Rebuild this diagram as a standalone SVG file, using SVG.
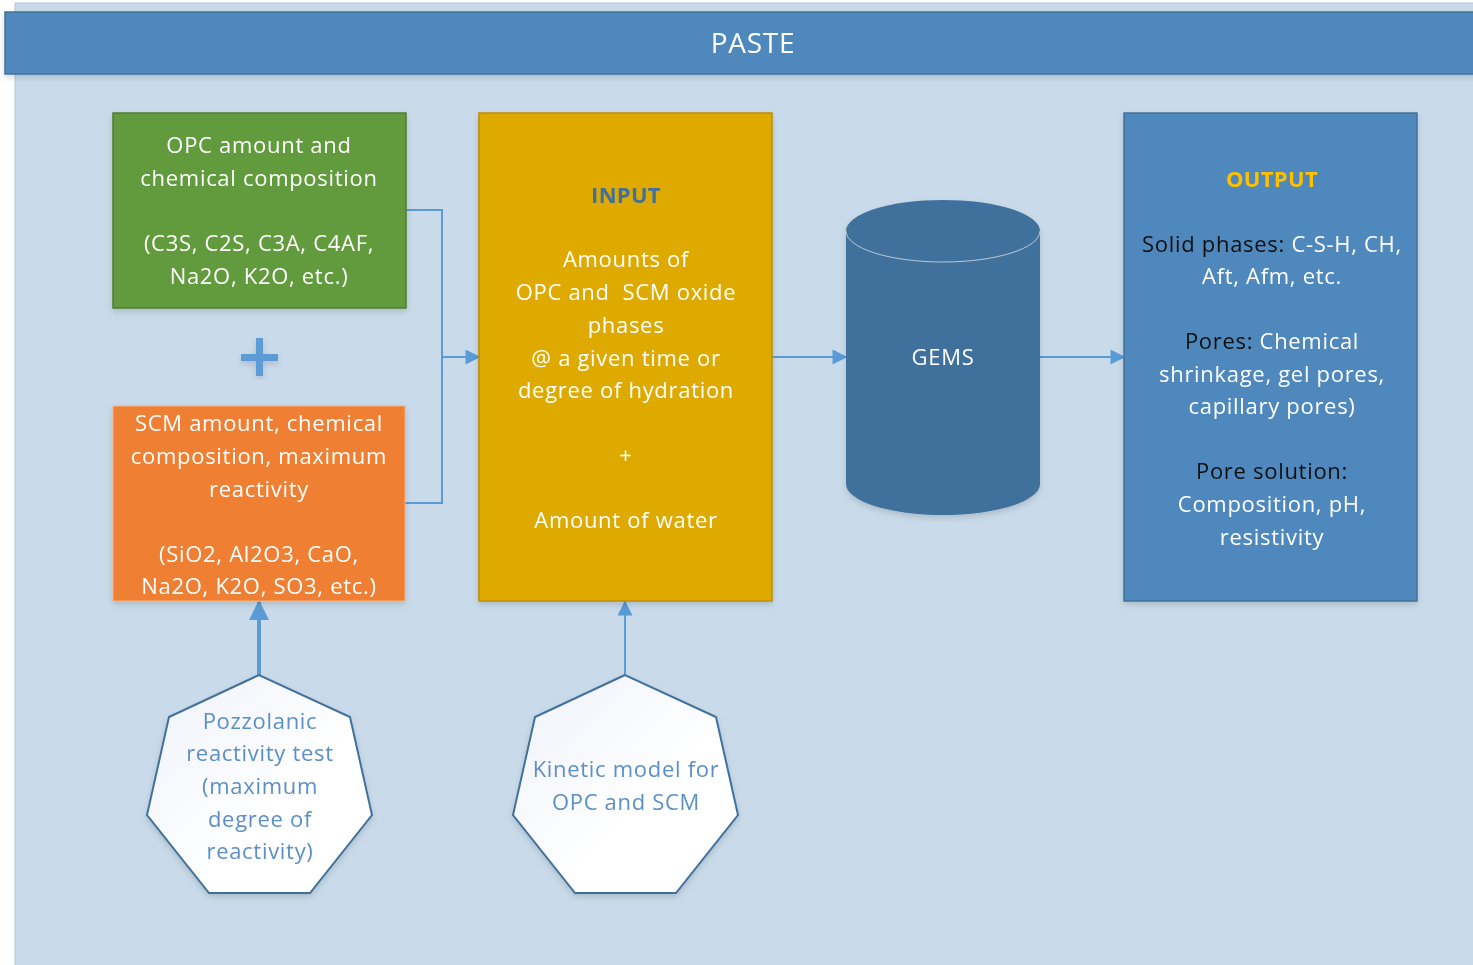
<svg xmlns="http://www.w3.org/2000/svg" width="1473" height="965" viewBox="0 0 1473 965">
<style>
  text { font-family: "Open Sans", "Liberation Sans", sans-serif; font-size: 22px; letter-spacing: 0.7px; text-anchor: middle; fill: #ffffff; white-space: pre; }
  .hept text { fill: #5B8FC6; }
  .conn { stroke: #5B9BD5; stroke-width: 2; fill: none; }
  .thick { stroke-width: 4; }
  .blk { fill: #111111; }
  .title { font-size: 28px; }
  .bold { font-weight: bold; letter-spacing: 0.3px; }
</style>
<defs>
  <marker id="arr" viewBox="0 0 10 10" refX="9" refY="5" markerWidth="16" markerHeight="15" markerUnits="userSpaceOnUse" orient="auto">
    <path d="M0,0 L10,5 L0,10 z" fill="#5B9BD5"/>
  </marker>
  <marker id="arrB" viewBox="0 0 10 10" refX="9" refY="5" markerWidth="20" markerHeight="20" markerUnits="userSpaceOnUse" orient="auto">
    <path d="M0,0 L10,5 L0,10 z" fill="#5B9BD5"/>
  </marker>
  <filter id="sh" x="-10%" y="-10%" width="120%" height="120%">
    <feDropShadow dx="0" dy="3" stdDeviation="3" flood-color="#000" flood-opacity="0.15"/>
  </filter>
  <linearGradient id="hg" x1="0" y1="0" x2="1" y2="1">
    <stop offset="0" stop-color="#EEF2FA"/>
    <stop offset="0.6" stop-color="#FFFFFF"/>
  </linearGradient>
</defs>
<rect x="0" y="0" width="1473" height="965" fill="#ffffff"/>
<rect x="15" y="3" width="1470" height="970" fill="#C9DBEA" stroke="#B4C7D9" stroke-width="1"/>

<g id="header" filter="url(#sh)">
  <rect x="5" y="12" width="1475" height="62" fill="#4F88BC" stroke="#41719C" stroke-width="1.5"/>
  <text class="title" x="753" y="53">PASTE</text>
</g>

<g id="connectors">
  <polyline class="conn" points="406,210 442,210 442,503 405,503"/>
  <line class="conn" x1="442" y1="357" x2="479" y2="357" marker-end="url(#arr)"/>
  <line class="conn" x1="772" y1="357" x2="846" y2="357" marker-end="url(#arr)"/>
  <line class="conn" x1="1040" y1="357" x2="1124" y2="357" marker-end="url(#arr)"/>
  <line class="conn thick" x1="259" y1="675" x2="259" y2="602" marker-end="url(#arrB)"/>
  <line class="conn" x1="625" y1="675" x2="625" y2="602" marker-end="url(#arr)"/>
</g>

<g id="opc" filter="url(#sh)">
  <rect x="113" y="113" width="293" height="195" fill="#629B3D" stroke="#507E32" stroke-width="1.5"/>
  <text x="259" y="153">OPC amount and</text>
  <text x="259" y="186">chemical composition</text>
  <text x="259" y="251">(C3S, C2S, C3A, C4AF,</text>
  <text x="259" y="284">Na2O, K2O, etc.)</text>
</g>

<g id="plus" filter="url(#sh)">
  <rect x="241" y="354" width="37" height="7" fill="#5B9BD5"/>
  <rect x="256" y="338" width="7" height="38" fill="#5B9BD5"/>
</g>

<g id="scm" filter="url(#sh)">
  <rect x="113" y="406" width="292" height="195" fill="#EF7F31" stroke="#F4B183" stroke-width="1"/>
  <text x="259" y="431">SCM amount, chemical</text>
  <text x="259" y="464">composition, maximum</text>
  <text x="259" y="497">reactivity</text>
  <text x="259" y="562">(SiO2, Al2O3, CaO,</text>
  <text x="259" y="594">Na2O, K2O, SO3, etc.)</text>
</g>

<g id="input" filter="url(#sh)">
  <rect x="479" y="113" width="293" height="488" fill="#DFAA00" stroke="#BC8C00" stroke-width="1.5"/>
  <text class="bold" x="626" y="203" style="fill:#41719C">INPUT</text>
  <text x="626" y="267">Amounts of</text>
  <text x="626" y="300">OPC and  SCM oxide</text>
  <text x="626" y="333">phases</text>
  <text x="626" y="366">@ a given time or</text>
  <text x="626" y="398">degree of hydration</text>
  <text x="626" y="463">+</text>
  <text x="626" y="528">Amount of water</text>
</g>

<g id="gems" filter="url(#sh)">
  <path d="M846,231 A97,31 0 0 1 1040,231 L1040,484 A97,31 0 0 1 846,484 Z" fill="#41719C"/>
  <path d="M846,231 A97,31 0 0 0 1040,231" fill="none" stroke="#B9C9D8" stroke-width="1"/>
  <text x="943" y="365">GEMS</text>
</g>

<g id="output" filter="url(#sh)">
  <rect x="1124" y="113" width="293" height="488" fill="#4F88BC" stroke="#41719C" stroke-width="1.5"/>
  <text class="bold" x="1272" y="187" style="fill:#FFC000">OUTPUT</text>
  <text x="1272" y="252"><tspan class="blk">Solid phases:</tspan> C-S-H, CH,</text>
  <text x="1272" y="284">Aft, Afm, etc.</text>
  <text x="1272" y="349"><tspan class="blk">Pores:</tspan> Chemical</text>
  <text x="1272" y="382">shrinkage, gel pores,</text>
  <text x="1272" y="414">capillary pores)</text>
  <text x="1272" y="479"><tspan class="blk">Pore solution:</tspan></text>
  <text x="1272" y="512">Composition, pH,</text>
  <text x="1272" y="545">resistivity</text>
</g>

<g id="pozzolanic" class="hept" filter="url(#sh)">
  <polygon points="259,675 169,717 147,815 209,893 310,893 372,815 350,717" fill="url(#hg)" stroke="#41719C" stroke-width="2"/>
  <text x="260" y="729">Pozzolanic</text>
  <text x="260" y="761">reactivity test</text>
  <text x="260" y="794">(maximum</text>
  <text x="260" y="827">degree of</text>
  <text x="260" y="859">reactivity)</text>
</g>

<g id="kinetic" class="hept" filter="url(#sh)">
  <polygon points="625,675 535,717 513,815 575,893 676,893 738,815 716,717" fill="url(#hg)" stroke="#41719C" stroke-width="2"/>
  <text x="626" y="777">Kinetic model for</text>
  <text x="626" y="810">OPC and SCM</text>
</g>
</svg>
